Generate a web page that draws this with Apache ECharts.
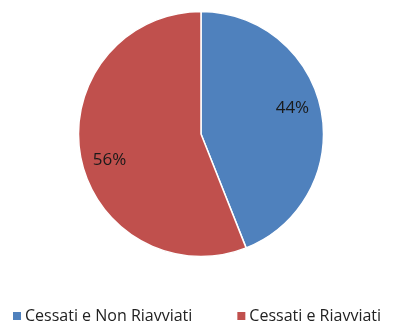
<!DOCTYPE html>
<html>
<head>
<meta charset="utf-8">
<script src="https://cdn.jsdelivr.net/npm/echarts@6/dist/echarts.min.js"></script>
<style>
  html, body { margin: 0; padding: 0; background: #fff; }
  #chart { width: 399px; height: 324px; }
</style>
</head>
<body>
<div id="chart"></div>
<script>
// Share of closed businesses: not restarted vs restarted
const categories = ['Cessati e Non Riavviati', 'Cessati e Riavviati'];
const shares = [44, 56];
const colors = ['#4F81BD', '#C0504D'];

const pieData = categories.map((name, i) => ({ name, value: shares[i] }));

const chart = echarts.init(document.getElementById('chart'), null, { renderer: 'canvas' });
const font = '"Open Sans", "Liberation Sans", sans-serif';

chart.setOption({
  animation: false,
  color: colors,
  legend: {
    data: categories,
    left: 6,
    top: 303,
    itemWidth: 10,
    itemHeight: 10,
    itemGap: 43,
    icon: 'rect',
    textStyle: { fontFamily: font, fontSize: 16, color: '#222222', padding: [0, 0, 0, -2] }
  },
  series: [
    {
      // the pie itself
      type: 'pie',
      center: [201, 134],
      radius: [0, 122.5],
      startAngle: 90,
      clockwise: true,
      silent: true,
      label: { show: false },
      labelLine: { show: false },
      itemStyle: { borderColor: '#ffffff', borderWidth: 1.5 },
      data: pieData
    },
    {
      // transparent twin carrying the percentage labels further out in each slice
      type: 'pie',
      center: [201, 134],
      radius: [0, 184],
      startAngle: 95,
      clockwise: true,
      silent: true,
      z: 3,
      itemStyle: { color: 'rgba(0,0,0,0)', borderWidth: 0 },
      label: {
        show: true,
        position: 'inside',
        formatter: '{c}%',
        fontFamily: font,
        fontSize: 17,
        color: '#1a1a1a'
      },
      labelLine: { show: false },
      data: pieData
    }
  ]
});
</script>
</body>
</html>
